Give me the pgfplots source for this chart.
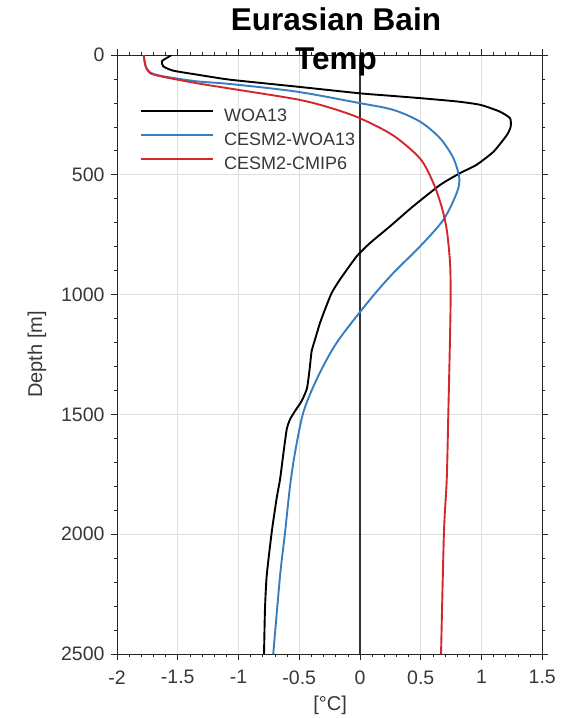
\documentclass[border=0pt]{standalone}
\usepackage{fontspec}
\setmainfont{Liberation Sans}
\usepackage{pgfplots}
\pgfplotsset{compat=1.18}
\definecolor{cblue}{RGB}{55,126,192}
\definecolor{cred}{RGB}{211,39,46}
\definecolor{tickgray}{RGB}{55,55,55}
\begin{document}
\begin{tikzpicture}[x=1pt,y=1pt]
\useasboundingbox (0,0) rectangle (562,718);
\begin{axis}[
  at={(117pt,64pt)}, anchor=south west,
  scale only axis, width=425.25pt, height=599pt,
  xmin=-2, xmax=1.5, ymin=0, ymax=2500, y dir=reverse,
  xtick={-2,-1.5,-1,-0.5,0,0.5,1,1.5}, ytick={0,500,1000,1500,2000,2500},
  minor x tick num=4, minor y tick num=4,
  tick align=outside, major tick length=6pt, minor tick length=3pt,
  grid=major, major grid style={black!13, line width=0.8pt},
  tick style={black!85, line width=0.7pt},
  axis line style={black!85, line width=0.9pt},
  /pgf/number format/assume math mode=true,
  /pgf/number format/1000 sep={},
  /pgf/number format/fixed,
  ticklabel style={font=\fontsize{19.5}{21}\selectfont, text=tickgray},
  xticklabel style={yshift=-7pt},
  yticklabel style={xshift=-3pt},
  xlabel={\mbox{[°C]}},
  ylabel={Depth [m]},
  label style={font=\fontsize{20}{22}\selectfont, text=tickgray},
  xlabel style={at={(axis description cs:0.501,-0.0851)}, anchor=center},
  ylabel style={at={(axis description cs:-0.1881,0.5)}, anchor=center},
  legend style={at={(0.054,0.9107)}, anchor=north west, draw=none, fill=none,
    inner sep=0pt, row sep=7pt,
    nodes={inner sep=0pt, text height=13pt, text depth=4pt, font=\fontsize{18}{20}\selectfont, text=tickgray}},
  legend cell align=left,
  legend image code/.code={\draw[#1] (0pt,6.4pt) -- (72pt,6.4pt);},
  /tikz/every odd column/.append style={column sep=10pt},
]
\addplot[black!80, line width=1.3pt, forget plot] coordinates {(0,0) (0,2500)};
\addplot[black, line width=1.9pt, smooth, tension=0.35] coordinates {
(-1.55,0) (-1.59,12) (-1.63,26) (-1.62,47) (-1.54,65) (-1.34,82) (-1.07,103)
(-0.52,132) (0.00,160) (0.247,170) (0.494,180) (0.80,194) (0.99,208) (1.15,236) (1.235,264)
(1.24,299) (1.21,333) (1.10,403) (0.96,458) (0.82,494) (0.66,542) (0.436,632)
(0.247,715) (0.082,785) (-0.027,840) (-0.165,937) (-0.233,993) (-0.288,1062)
(-0.329,1118) (-0.370,1187) (-0.398,1236) (-0.412,1299) (-0.425,1354) (-0.439,1396)
(-0.48,1444) (-0.535,1486) (-0.576,1521) (-0.603,1562) (-0.631,1665) (-0.658,1771)
(-0.686,1850) (-0.727,1993) (-0.768,2174) (-0.782,2312) (-0.79,2500)};
\addlegendentry{WOA13}
\addplot[cblue, line width=1.9pt, smooth, tension=0.5] coordinates {
(-1.78,0) (-1.775,20) (-1.765,45) (-1.73,72) (-1.62,89) (-1.34,110) (-1.07,121)
(-0.52,153) (0.00,201) (0.274,229) (0.494,278) (0.658,347) (0.768,430) (0.817,514)
(0.796,576) (0.686,688) (0.494,799) (0.274,910) (0.082,1021)
(-0.192,1201) (-0.357,1354) (-0.467,1493) (-0.535,1660) (-0.576,1800) (-0.617,1993)
(-0.658,2174) (-0.714,2500)};
\addlegendentry{CESM2-WOA13}
\addplot[cred, line width=1.9pt, smooth, tension=0.5] coordinates {
(-1.78,0) (-1.775,20) (-1.765,45) (-1.73,75) (-1.62,91) (-1.34,118) (-1.07,140)
(-0.52,185) (-0.247,220) (0.00,264) (0.274,336) (0.494,432) (0.60,530)
(0.67,630) (0.714,729) (0.741,868) (0.746,1007) (0.740,1200) (0.727,1493)
(0.714,1771) (0.691,1993) (0.667,2500)};
\addlegendentry{CESM2-CMIP6}
\end{axis}
\node[font=\fontsize{31.5}{33}\selectfont\bfseries, anchor=base] at (336,687) {Eurasian Bain};
\node[font=\fontsize{31.5}{33}\selectfont\bfseries, anchor=base] at (336,648) {Temp};
\end{tikzpicture}
\end{document}
